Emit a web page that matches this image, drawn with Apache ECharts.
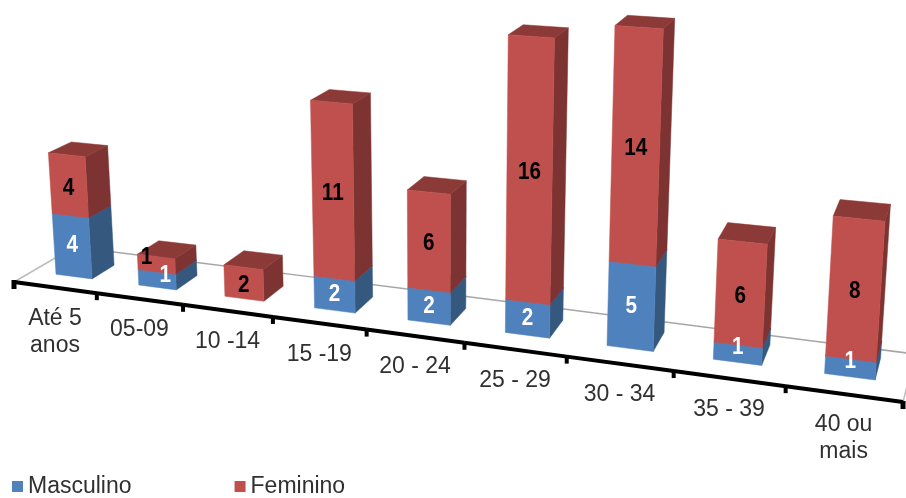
<!DOCTYPE html>
<html>
<head>
<meta charset="utf-8">
<style>html,body{margin:0;padding:0;background:#fff}#chart{width:906px;height:498px}</style>
<script src="https://cdn.jsdelivr.net/npm/echarts@6/dist/echarts.min.js"></script>
</head>
<body>
<div id="chart"></div>
<script>
// Patients per age group and sex, drawn as stacked bars on a tilted floor.
const categories = ['Até 5\nanos', '05-09', '10 -14', '15 -19', '20 - 24', '25 - 29', '30 - 34', '35 - 39', '40 ou\nmais'];
const masculino = [4, 1, 0, 2, 2, 2, 5, 1, 1];
const feminino = [4, 1, 2, 11, 6, 16, 14, 6, 8];

const FONT = '"Liberation Sans", Arial, sans-serif';
const BLUE = { front: '#4f81bd', side: '#35587f', top: '#3f6797' };
const RED = { front: '#c0504d', side: '#7d3331', top: '#8c3a38' };

// Flat layout of the cartesian grid; tilt() carries its pixels onto the floor plane.
const GRID = { left: 14, top: 2, width: 830, height: 280 };
const Y_MAX = 20;
const BAND = GRID.width / categories.length;
const PX_PER_VALUE = GRID.height / Y_MAX;

// Perspective of the scene.
const PERSP = -0.0198;
const HEIGHT_PERSP = -0.0165;
const AXIS_RUN = 80.9;
const AXIS_SLOPE = 120 / 889;
const VANISH_X = 440;
const LEAN = 0.0025;
const UNIT = 15.1;
const DEPTH_FLATTEN = 0.024;
const BAR_FROM = 0.29, BAR_TO = 0.73;
const DEPTH_FROM = 0.31, DEPTH_TO = 0.69;

function tilt(flatX, flatY, depth) {
  const u = (flatX - GRID.left) / BAND;
  const h = (GRID.top + GRID.height - flatY) / PX_PER_VALUE;
  const w = 1 + PERSP * u;
  const ax = (14 + AXIS_RUN * u) / w;
  const ay = 282 + (ax - 14) * AXIS_SLOPE;
  // Bars sit inside the floor and bow slightly wider in the middle of the run.
  const inside = depth < 1;
  const bow = inside ? 6 * u * (9 - u) / 20.25 : 0;
  const rise = inside ? 10 * (u / 9) * (u / 9) : 0;
  const x0 = ax + depth * (60 - 5.33 * u + bow);
  // The top faces flatten out as the bars rise towards eye level.
  const apparentDepth = depth > DEPTH_FROM
    ? DEPTH_FROM + (depth - DEPTH_FROM) * (1 - DEPTH_FLATTEN * h)
    : depth;
  const y0 = ay + apparentDepth * (-35 - 1.44 * u - rise);
  return [
    VANISH_X + (x0 - VANISH_X) * (1 + LEAN * h),
    y0 - (UNIT / (1 + HEIGHT_PERSP * u)) * h
  ];
}

function poly(points, fill) {
  return {
    type: 'polygon',
    shape: { points },
    style: { fill, stroke: fill, lineWidth: 0.5 }
  };
}

function stroke(a, b, color, width) {
  return {
    type: 'line',
    shape: { x1: a[0], y1: a[1], x2: b[0], y2: b[1] },
    style: { stroke: color, lineWidth: width, lineCap: 'butt' }
  };
}

// Floor edges, category axis, ticks and category labels.
function renderFloor(params, api) {
  const i = api.value(0);
  const base = api.coord([i, 0]);
  const left = base[0] - BAND / 2;
  const right = base[0] + BAND / 2;
  const y = base[1];
  const children = [];
  const a0 = tilt(left, y, 0), a1 = tilt(right, y, 0);

  children.push(stroke(tilt(left, y, 1), tilt(right, y, 1), '#a6a6a6', 1.5));
  if (i === 0) children.push(stroke(a0, tilt(left, y, 1), '#bdbdbd', 1.5));
  if (i === categories.length - 1) children.push(stroke(a1, tilt(right, y, 1), '#bdbdbd', 1.5));
  children.push(stroke(a0, a1, '#000', 4));
  if (i === 0) children.push(stroke([a0[0], a0[1] - 2], [a0[0], a0[1] + 7], '#000', 5));
  const last = i === categories.length - 1;
  children.push(stroke([a1[0], a1[1] - 1], [a1[0], a1[1] + 7], '#000', last ? 5 : 4));

  const mid = tilt(base[0], y, 0);
  children.push({
    type: 'text',
    style: {
      text: categories[i],
      x: mid[0],
      y: mid[1] + 17.5,
      textAlign: 'center',
      textVerticalAlign: 'top',
      lineHeight: 27,
      font: '23px ' + FONT,
      fill: '#303030'
    }
  });
  return { type: 'group', children };
}

// One stacked block: front, side and top faces plus its value label.
function blockRenderer(colors, labelFill, nudge) {
  return function (params, api) {
    const i = api.value(0), from = api.value(1), value = api.value(2);
    if (!value) return null;
    const x = api.coord([i, 0])[0] - BAND / 2;
    const y0 = api.coord([i, from])[1];
    const y1 = api.coord([i, from + value])[1];
    const xl = x + BAND * BAR_FROM, xr = x + BAND * BAR_TO;

    const fbl = tilt(xl, y0, DEPTH_FROM), fbr = tilt(xr, y0, DEPTH_FROM);
    const ftl = tilt(xl, y1, DEPTH_FROM), ftr = tilt(xr, y1, DEPTH_FROM);
    const bbr = tilt(xr, y0, DEPTH_TO);
    const btr = tilt(xr, y1, DEPTH_TO), btl = tilt(xl, y1, DEPTH_TO);
    const c = tilt((xl + xr) / 2, (y0 + y1) / 2, DEPTH_FROM);
    const n = nudge(i, value);

    return {
      type: 'group',
      children: [
        poly([ftr, btr, bbr, fbr], colors.side),
        poly([ftl, btl, btr, ftr], colors.top),
        poly([fbl, fbr, ftr, ftl], colors.front),
        {
          type: 'text',
          z2: 10,
          x: c[0] + n[0],
          y: c[1] + n[1],
          scaleX: 0.9,
          style: {
            text: String(value),
            x: 0,
            y: 0,
            textAlign: 'center',
            textVerticalAlign: 'middle',
            font: 'bold 23px ' + FONT,
            fill: labelFill
          }
        }
      ]
    };
  };
}

const masculinoRows = masculino.map((v, i) => [i, 0, v]);
const femininoRows = feminino.map((v, i) => [i, masculino[i], v]);

const chart = echarts.init(document.getElementById('chart'), null, { renderer: 'canvas' });
chart.setOption({
  animation: false,
  backgroundColor: '#fff',
  color: [BLUE.front, RED.front],
  grid: GRID,
  xAxis: { type: 'category', data: categories, show: false },
  yAxis: { type: 'value', min: 0, max: Y_MAX, show: false },
  legend: {
    data: ['Masculino', 'Feminino'],
    left: 12,
    top: 475,
    padding: 0,
    itemWidth: 11,
    itemHeight: 11,
    itemGap: 103,
    icon: 'rect',
    textStyle: { fontFamily: FONT, fontSize: 23, color: '#303030' }
  },
  series: [
    {
      type: 'custom',
      name: 'Eixo',
      silent: true,
      clip: false,
      data: categories.map((c, i) => [i]),
      renderItem: renderFloor
    },
    {
      type: 'custom',
      name: 'Masculino',
      clip: false,
      itemStyle: { color: BLUE.front },
      data: masculinoRows,
      renderItem: blockRenderer(BLUE, '#fff', (i, v) => i === 1 ? [8, -4] : [0, v === 1 ? -6 : 0])
    },
    {
      type: 'custom',
      name: 'Feminino',
      clip: false,
      itemStyle: { color: RED.front },
      data: femininoRows,
      renderItem: blockRenderer(RED, '#000', (i, v) => i === 1 ? [-10, -7] : [0, 3])
    }
  ]
});
</script>
</body>
</html>
